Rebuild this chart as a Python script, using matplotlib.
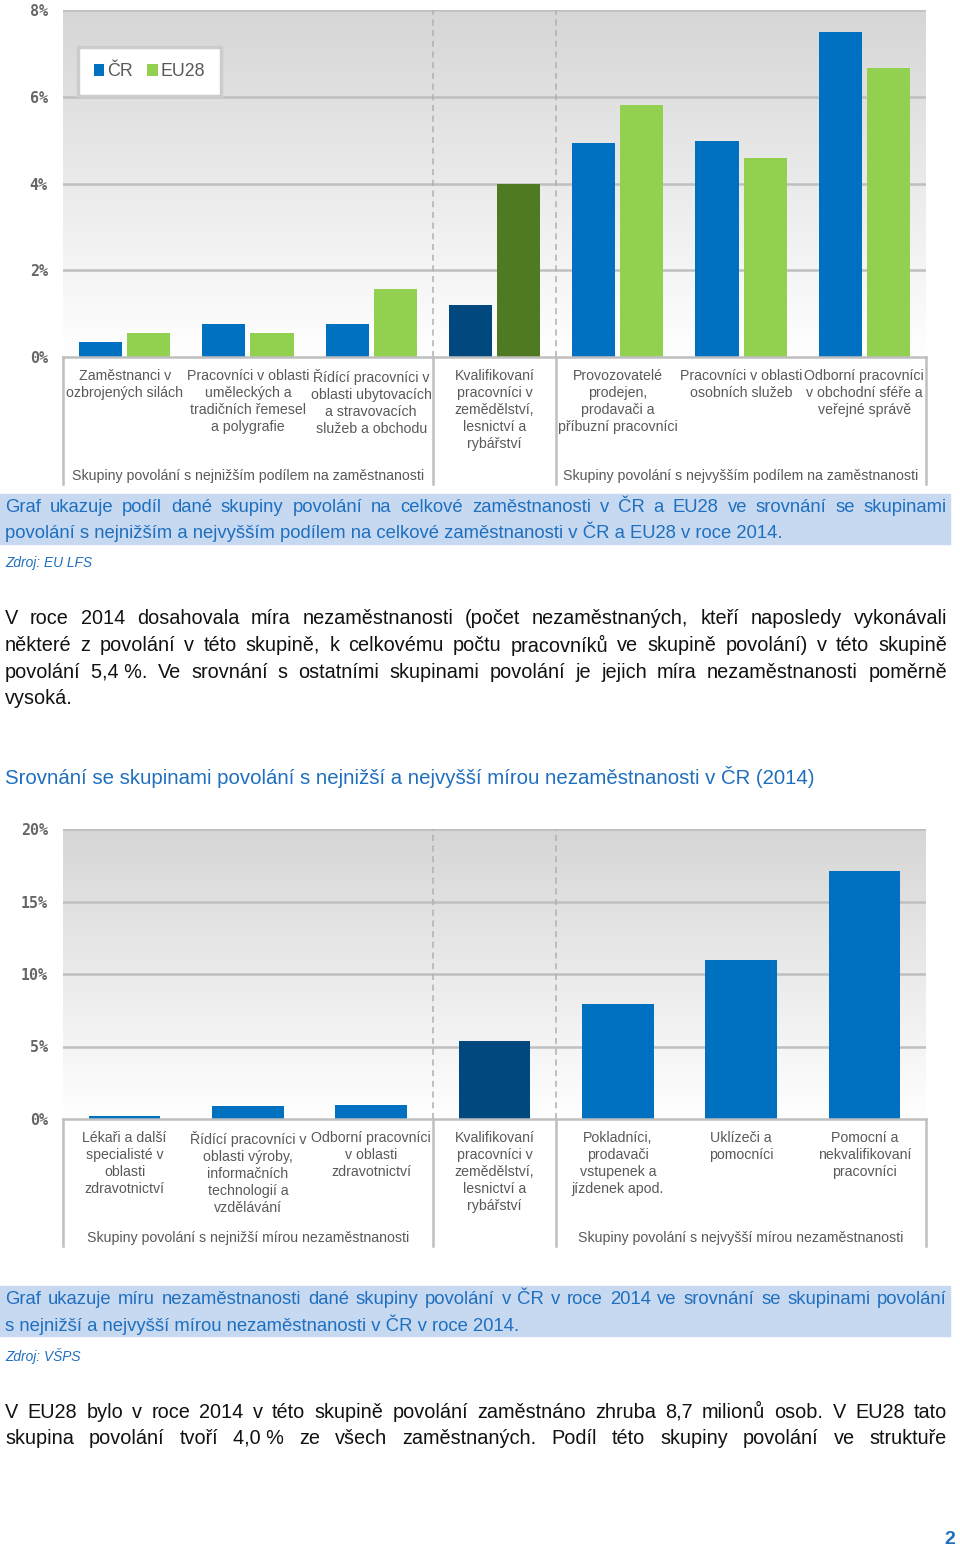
import matplotlib.pyplot as plt
import numpy as np
from matplotlib import font_manager
from matplotlib.colors import LinearSegmentedColormap
from matplotlib.patches import Rectangle

plt.switch_backend('Agg')

# --- graf 1: podíl skupiny povolání na zaměstnanosti (%) ---
share_cats = [
    "Zaměstnanci v\nozbrojených silách",
    "Pracovníci v oblasti\numěleckých a\ntradičních řemesel\na polygrafie",
    "Řídící pracovníci v\noblasti ubytovacích\na stravovacích\nslužeb a obchodu",
    "Kvalifikovaní\npracovníci v\nzemědělství,\nlesnictví a\nrybářství",
    "Provozovatelé\nprodejen,\nprodavači a\npříbuzní pracovníci",
    "Pracovníci v oblasti\nosobních služeb",
    "Odborní pracovníci\nv obchodní sféře a\nveřejné správě",
]
share_cr = [0.35, 0.76, 0.77, 1.2, 4.93, 4.98, 7.49]
share_eu = [0.55, 0.55, 1.57, 3.99, 5.8, 4.58, 6.66]
share_ticks = [0, 2, 4, 6, 8]
share_groups = ["Skupiny povolání s nejnižším podílem na zaměstnanosti",
                "Skupiny povolání s nejvyšším podílem na zaměstnanosti"]
series_names = ["ČR", "EU28"]

# --- graf 2: míra nezaměstnanosti v ČR (%) ---
unemp_cats = [
    "Lékaři a další\nspecialisté v\noblasti\nzdravotnictví",
    "Řídící pracovníci v\noblasti výroby,\ninformačních\ntechnologií a\nvzdělávání",
    "Odborní pracovníci\nv oblasti\nzdravotnictví",
    "Kvalifikovaní\npracovníci v\nzemědělství,\nlesnictví a\nrybářství",
    "Pokladníci,\nprodavači\nvstupenek a\njízdenek apod.",
    "Uklízeči a\npomocníci",
    "Pomocní a\nnekvalifikovaní\npracovníci",
]
unemp_cr = [0.2, 0.9, 1.0, 5.4, 7.9, 11.0, 17.1]
unemp_ticks = [0, 5, 10, 15, 20]
unemp_groups = ["Skupiny povolání s nejnižší mírou nezaměstnanosti",
                "Skupiny povolání s nejvyšší mírou nezaměstnanosti"]

highlight = 3  # sledovaná skupina povolání

BLUE, GREEN = '#0070c0', '#92d050'
DARK_BLUE, DARK_GREEN = '#00487e', '#4f7a21'
GRID = '#bfbfbf'
LABEL = '#595959'
TEXT_BLUE = '#1f6fbf'
BOX_BLUE = '#c6d9f1'
LABEL_FONT = 'Liberation Sans'

W, H = 960, 1551
fig = plt.figure(figsize=(W / 100, H / 100), dpi=100)
page = fig.add_axes([0, 0, 1, 1], zorder=0)
page.set_xlim(0, W)
page.set_ylim(H, 0)
page.axis('off')
renderer = fig.canvas.get_renderer()

names = {f.name for f in font_manager.fontManager.ttflist}
body_font = 'Liberation Sans Narrow' if 'Liberation Sans Narrow' in names else 'Liberation Sans'

fade = LinearSegmentedColormap.from_list('fade', ['#ffffff', '#d6d6d6'])


def px_rect(left, top, right, bottom):
    return [left / W, 1 - bottom / H, (right - left) / W, (bottom - top) / H]


def bar_chart(rect, cats, series, colors, ticks, groups, width, pitch):
    ax = fig.add_axes(rect, zorder=2)
    n = len(cats)
    x = np.arange(n)
    ax.set_xlim(-0.5, n - 0.5)
    ax.set_ylim(0, ticks[-1])
    ax.imshow(np.linspace(0, 1, 256).reshape(-1, 1), extent=[-0.5, n - 0.5, 0, ticks[-1]],
              origin='lower', aspect='auto', cmap=fade, zorder=0)
    for t in ticks[1:]:
        ax.axhline(t, color=GRID, lw=1.8, zorder=1)
    ax.axhline(0, color=GRID, lw=1.8, zorder=3, clip_on=False)

    bars = []
    offsets = (np.arange(len(series)) - (len(series) - 1) / 2) * pitch
    for vals, off, (c, c_dark) in zip(series, offsets, colors):
        cols = [c_dark if i == highlight else c for i in range(n)]
        bars.append(ax.bar(x + off, vals, width, color=cols, zorder=2))

    for b in (highlight - 0.5, highlight + 0.5):
        ax.axvline(b, color='#b0b0b0', ls=(0, (4, 3)), lw=1.1, zorder=1)

    h_px = rect[3] * H
    trans = ax.get_xaxis_transform()
    for b in (-0.5, highlight - 0.5, highlight + 0.5, n - 0.5):
        ax.plot([b, b], [0, -127 / h_px], transform=trans, color=GRID, lw=1.8, clip_on=False)
    for i, cat in enumerate(cats):
        ax.text(i, -12 / h_px, cat, transform=trans, ha='center', va='top',
                fontsize=10.2, color=LABEL, linespacing=1.27, family=LABEL_FONT)
    for gx, g in zip((np.mean(x[:highlight]), np.mean(x[highlight + 1:])), groups):
        ax.text(gx, -119 / h_px, g, transform=trans, ha='center', va='center',
                fontsize=10.2, color=LABEL, family=LABEL_FONT)

    ax.set_xticks([])
    ax.set_yticks(ticks)
    ax.set_yticklabels([f'{t}%' for t in ticks], family='DejaVu Sans Mono',
                       fontweight='bold', fontsize=10.8, color='#666666')
    ax.tick_params(axis='y', length=0, pad=11)
    for s in ax.spines.values():
        s.set_visible(False)
    return ax, bars


ax1, bars1 = bar_chart(px_rect(63, 10, 926, 357), share_cats, [share_cr, share_eu],
                       [(BLUE, DARK_BLUE), (GREEN, DARK_GREEN)], share_ticks, share_groups,
                       width=0.35, pitch=0.39)
leg = ax1.legend(bars1, series_names, loc='upper left', bbox_to_anchor=(0.017, 0.893),
                 borderaxespad=0, ncol=2, handlelength=0.6, handleheight=0.6,
                 handletextpad=0.15, columnspacing=0.8, borderpad=0.9, fancybox=False,
                 framealpha=1, edgecolor='#cccccc', labelcolor=LABEL,
                 prop={'family': LABEL_FONT, 'size': 12.8})
leg.get_frame().set_linewidth(2.5)

ax2, _ = bar_chart(px_rect(63, 829, 926, 1119), unemp_cats, [unemp_cr],
                   [(BLUE, DARK_BLUE)], unemp_ticks, unemp_groups, width=0.58, pitch=0)


# --- textové bloky stránky ---
def text_width(s, size, **kw):
    t = page.text(0, 0, s, fontsize=size, family=body_font, **kw)
    w = t.get_window_extent(renderer=renderer).width
    t.remove()
    return w


def fit_size(s, target, **kw):
    return 10 * target / text_width(s, 10, **kw)


def write_line(y, line, size, color, justify=False, x0=5, x1=947, **kw):
    if not justify:
        page.text(x0, y, line, fontsize=size, color=color, va='center', ha='left',
                  family=body_font, **kw)
        return
    words = line.split(' ')
    parts = [page.text(0, y, w, fontsize=size, color=color, va='center', ha='left',
                       family=body_font, **kw) for w in words]
    widths = [p.get_window_extent(renderer=renderer).width for p in parts]
    gap = (x1 - x0 - sum(widths)) / (len(words) - 1)
    pos = x0
    for p, w in zip(parts, widths):
        p.set_x(pos)
        pos += w + gap


cap_size = fit_size("povolání s nejnižším a nejvyšším podílem na celkové zaměstnanosti v ČR a EU28 v roce 2014.", 780)
body_size = cap_size * 1.08
head_size = fit_size("Srovnání se skupinami povolání s nejnižší a nejvyšší mírou nezaměstnanosti v ČR (2014)", 810)
src_size = fit_size("Zdroj: EU LFS", 87, style='italic')

page.add_patch(Rectangle((0, 494), 950, 50, color=BOX_BLUE, zorder=0))
write_line(507, "Graf ukazuje podíl dané skupiny povolání na celkové zaměstnanosti v ČR a EU28 ve srovnání se skupinami",
           cap_size, TEXT_BLUE, justify=True)
write_line(532, "povolání s nejnižším a nejvyšším podílem na celkové zaměstnanosti v ČR a EU28 v roce 2014.",
           cap_size, TEXT_BLUE)
write_line(563, "Zdroj: EU LFS", src_size, TEXT_BLUE, style='italic')

para1 = [
    "V roce 2014 dosahovala míra nezaměstnanosti (počet nezaměstnaných, kteří naposledy vykonávali",
    "některé z povolání v této skupině, k celkovému počtu pracovníků ve skupině povolání) v této skupině",
    "povolání 5,4\u00a0%. Ve srovnání s ostatními skupinami povolání je jejich míra nezaměstnanosti poměrně",
]
for i, line in enumerate(para1):
    write_line(619 + 26.5 * i, line, body_size, '#111111', justify=True)
write_line(698.5, "vysoká.", body_size, '#111111')

write_line(777, "Srovnání se skupinami povolání s nejnižší a nejvyšší mírou nezaměstnanosti v ČR (2014)",
           head_size, TEXT_BLUE)

page.add_patch(Rectangle((0, 1286), 950, 50, color=BOX_BLUE, zorder=0))
write_line(1300, "Graf ukazuje míru nezaměstnanosti dané skupiny povolání v ČR v roce 2014 ve srovnání se skupinami povolání",
           cap_size, TEXT_BLUE, justify=True)
write_line(1325, "s nejnižší a nejvyšší mírou nezaměstnanosti v ČR v roce 2014.", cap_size, TEXT_BLUE)
write_line(1356, "Zdroj: VŠPS", src_size, TEXT_BLUE, style='italic')

para2 = [
    "V EU28 bylo v roce 2014 v této skupině povolání zaměstnáno zhruba 8,7 milionů osob. V EU28 tato",
    "skupina povolání tvoří 4,0\u00a0% ze všech zaměstnaných. Podíl této skupiny povolání ve struktuře",
]
for i, line in enumerate(para2):
    write_line(1412 + 26.5 * i, line, body_size, '#111111', justify=True)

page.text(955, 1540, "2", fontsize=14, fontweight='bold', color=TEXT_BLUE, ha='right', va='center',
          family=body_font)

fig.savefig('out.png', dpi=100)
